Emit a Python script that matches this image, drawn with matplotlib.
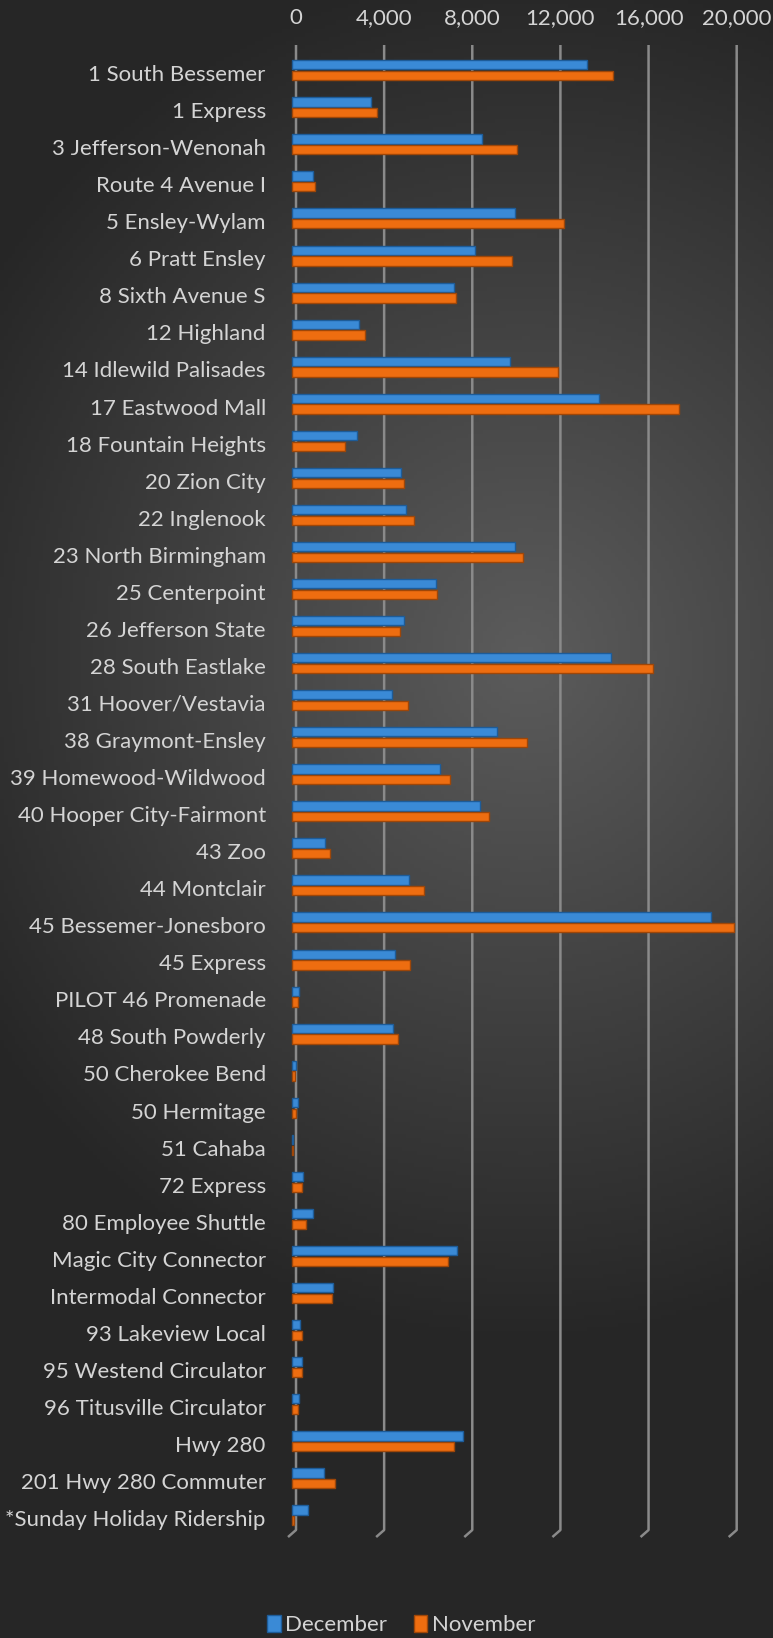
import numpy as np
import matplotlib.pyplot as plt
from matplotlib.patches import Patch

routes = ["1 South Bessemer", "1 Express", "3 Jefferson-Wenonah", "Route 4 Avenue I",
          "5 Ensley-Wylam", "6 Pratt Ensley", "8 Sixth Avenue S", "12 Highland",
          "14 Idlewild Palisades", "17 Eastwood Mall", "18 Fountain Heights", "20 Zion City",
          "22 Inglenook", "23 North Birmingham", "25 Centerpoint", "26 Jefferson State",
          "28 South Eastlake", "31 Hoover/Vestavia", "38 Graymont-Ensley",
          "39 Homewood-Wildwood", "40 Hooper City-Fairmont", "43 Zoo", "44 Montclair",
          "45 Bessemer-Jonesboro", "45 Express", "PILOT 46 Promenade", "48 South Powderly",
          "50 Cherokee Bend", "50 Hermitage", "51 Cahaba", "72 Express",
          "80 Employee Shuttle", "Magic City Connector", "Intermodal Connector",
          "93 Lakeview Local", "95 Westend Circulator", "96 Titusville Circulator",
          "Hwy 280", "201 Hwy 280 Commuter", "*Sunday Holiday Ridership"]

december = [13390, 3600, 8620, 940, 10140, 8320, 7370, 3070, 9910, 13920,
            2950, 4950, 5180, 10140, 6550, 5110, 14500, 4540, 9300, 6730,
            8550, 1510, 5310, 19020, 4700, 330, 4580, 180, 270, 75,
            500, 940, 7490, 1890, 350, 440, 330, 7790, 1440, 730]

november = [14560, 3860, 10210, 1060, 12330, 9990, 7430, 3330, 12100, 17550,
            2420, 5100, 5550, 10470, 6580, 4890, 16390, 5250, 10670, 7160,
            8970, 1740, 5980, 20050, 5370, 290, 4810, 160, 180, 60,
            450, 640, 7080, 1830, 440, 440, 270, 7340, 1940, 80]

ticks = [0, 4000, 8000, 12000, 16000, 20000]

W, H = 773, 1638
fig = plt.figure(figsize=(W / 100, H / 100), dpi=100)
plt.rcParams['font.family'] = ['Lato', 'DejaVu Sans']

# dark radial background
bg = fig.add_axes([0, 0, 1, 1], zorder=-5)
gx, gy = np.meshgrid(np.linspace(0, 1, 200), np.linspace(0, 1, 400))
r = np.sqrt(((gx - 0.68) * 1.0) ** 2 + ((gy - 0.6) * 2.0) ** 2)
shade = np.clip(0.36 - 0.25 * r, 0.15, 0.36)
bg.imshow(np.dstack([shade, shade, shade]), extent=[0, 1, 0, 1], aspect='auto', origin='lower')
bg.axis('off')

ax = fig.add_axes([289.4 / W, 108 / H, (745.5 - 289.4) / W, (1530 - 45) / H])
ax.set_facecolor('none')
for s in ax.spines.values():
    s.set_visible(False)

y = np.arange(len(routes))
depth = 190  # 3d offset of the bar bodies
ax.barh(y - 0.22, december, height=0.25, left=-depth, color='#3a8ad6',
        edgecolor='#1d5c99', linewidth=1.0, zorder=3)
ax.barh(y + 0.07, november, height=0.25, left=-depth, color='#ee6d10',
        edgecolor='#9e4608', linewidth=1.0, zorder=3)

top, bottom = -0.756, 39.32
ax.set_xlim(-300, 20400)
ax.set_ylim(bottom, top)

# vertical gridlines with small perspective foot
for t in ticks:
    ax.plot([t, t, t - 363], [top, bottom, bottom + 0.19], color='#8a8a8a', lw=1.8,
            clip_on=False, zorder=1, solid_capstyle='butt')

ax.xaxis.tick_top()
ax.set_xticks(ticks)
ax.set_xticklabels([f"{t:,}" for t in ticks])
ax.set_yticks(y)
ax.set_yticklabels(routes)
ax.tick_params(axis='x', length=0, pad=12, labelsize=16, labelcolor='#d4d4d4')
ax.tick_params(axis='y', length=0, pad=17, labelsize=16, labelcolor='#d4d4d4')

handles = [Patch(facecolor='#3a8ad6', edgecolor='#1d5c99', label='December'),
           Patch(facecolor='#ee6d10', edgecolor='#9e4608', label='November')]
fig.legend(handles=handles, loc='center', bbox_to_anchor=(0.519, 13 / H), ncol=2,
           frameon=False, fontsize=16, labelcolor='#d4d4d4', handlelength=0.6,
           handleheight=0.8, handletextpad=0.2, columnspacing=1.2)

fig.savefig('out.png', dpi=100)
